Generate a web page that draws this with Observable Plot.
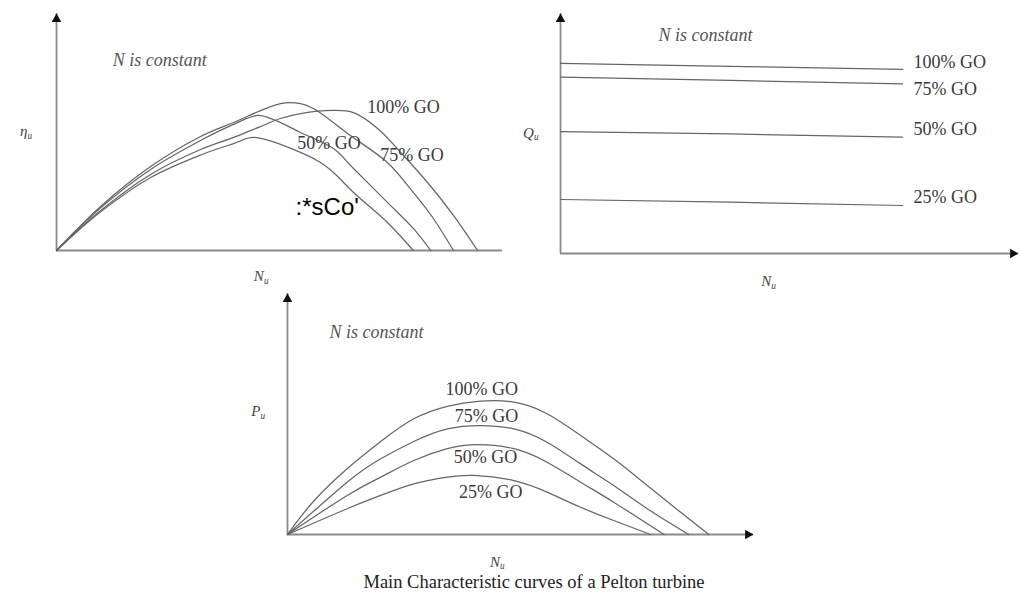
<!DOCTYPE html>
<html>
<head>
<meta charset="utf-8">
<script src="https://cdn.jsdelivr.net/npm/d3@7"></script>
<script src="https://cdn.jsdelivr.net/npm/@observablehq/plot@0.6"></script>
<style>
  body { margin: 0; background: #fff; }
  #wrap { position: relative; width: 1021px; height: 598px; overflow: hidden; background: #fff; }
  #wrap > svg { position: absolute; overflow: visible; }
  #caption { position: absolute; left: 284px; width: 500px; top: 572px; text-align: center;
             font: 18.5px "Liberation Serif", serif; line-height: 20px; color: #222; white-space: nowrap; }
</style>
</head>
<body>
<div id="wrap"><div id="caption">Main Characteristic curves of a Pelton turbine</div></div>
<script>
// ---- data (Nu normalised 0..100 along each x-axis, values 0..100 along each y-axis) ----
const goLabels = ["100% GO", "75% GO", "50% GO", "25% GO"];

// Efficiency vs unit speed
const eff100 = [[0,0],[9.9,16.9],[21.1,32.1],[32.3,42.6],[39.7,47.7],[45.7,52.3],[50.2,55.7],[54.7,57.8],[62.1,59.1],[66.6,58.2],[72,51.5],[77.8,40.1],[83.2,28.7],[89,14.8],[94.4,0]];
const eff75  = [[0,0],[9.9,18.6],[21.1,35.4],[32.3,48.1],[39.7,54],[50.2,62],[54.7,62],[57.6,59.9],[65.9,48.5],[74.2,37.1],[80,24.5],[84.5,13.5],[89,0]];
const eff50  = [[0,0],[9.9,18],[21.1,34.2],[32.3,46.4],[39.7,53.2],[45.1,57],[49.1,54.9],[54.7,49.8],[62.1,43],[66.6,34.6],[74.2,20.3],[80,9.3],[83.9,0]];
const eff25  = [[0,0],[9.9,16.3],[21.1,30.8],[32.3,40.3],[39.7,45.1],[44.2,47.7],[54.7,41.4],[59.2,37.1],[62.1,32.9],[66.6,24.5],[74.2,11.8],[80,0]];

// Unit discharge vs unit speed
const q100 = [[0,79.2],[37,78],[74.7,76.7]];
const q75  = [[0,73.5],[37,72.1],[74.7,70.7]];
const q50  = [[0,50.8],[37,49.8],[74.7,48.5]];
const q25  = [[0,22.5],[37,21.4],[74.7,20]];

// Unit power vs unit speed
const pw100 = [[0,0],[5.6,13.8],[12.8,27.3],[20,38.6],[27.1,48],[34.3,53.2],[41.4,55.3],[48.6,54.9],[55.7,50.1],[62.9,41.1],[70,31.4],[77.2,20.3],[84.3,9.3],[90.4,0]];
const pw75  = [[0,0],[12.8,21.7],[20,31.4],[27.1,38.6],[34.3,43.8],[41.4,45.2],[48.6,43.8],[55.7,38.3],[62.9,29.3],[70,20.3],[77.2,10.7],[86.1,0]];
const pw50  = [[0,0],[12.8,16.2],[20,23.8],[27.1,30.7],[34.3,35.6],[40.7,37.3],[48.6,35.6],[55.7,30],[62.9,21.7],[70,13.4],[80.8,0]];
const pw25  = [[0,0],[12.8,10.7],[20,16.2],[27.1,21],[34.3,23.8],[40,24.5],[48.6,22.4],[55.7,17.6],[62.9,11.3],[70,5.8],[77.9,0]];

// ---- helpers ----
const toRows = (series) => series.flatMap((pts, i) => pts.map(([nu, v]) => ({go: goLabels[i], nu, v})));
const axisColor = "#8a8a8a";
const curveColor = "#666";
const serif = "Liberation Serif";

function axes(rightArrow) {
  const m = [
    Plot.ruleX([{x: 0, y1: 0, y2: 100}], {x: "x", y1: "y1", y2: "y2", stroke: axisColor, strokeWidth: 1.8}),
    Plot.ruleY([{y: 0, x1: 0, x2: 100}], {y: "y", x1: "x1", x2: "x2", stroke: axisColor, strokeWidth: 1.8}),
    Plot.dot([{x: 0, y: 100}], {x: "x", y: "y", symbol: "triangle", r: 3.6, fill: "#111", stroke: "none", dy: 5.6})
  ];
  if (rightArrow) m.push(Plot.dot([{x: 100, y: 0}], {x: "x", y: "y", symbol: "triangle", rotate: 90, r: 3.6, fill: "#111", stroke: "none", dx: -5.6}));
  return m;
}
function axisLabel(x, y, main, sub, size) {
  return [
    Plot.text([main], {x: () => x, y: () => y, text: d => d, fontFamily: serif, fontStyle: "italic", fontSize: size, fill: "#444", textAnchor: "end"}),
    Plot.text([sub], {x: () => x, y: () => y, text: d => d, fontFamily: serif, fontStyle: "italic", fontSize: size * 0.62, fill: "#444", textAnchor: "start", dy: 4})
  ];
}
function note(x, y) {
  return Plot.text(["N is constant"], {x: () => x, y: () => y, text: d => d, fontFamily: serif, fontStyle: "italic", fontSize: 18, fill: "#555", textAnchor: "start"});
}
const common = (w, h, ml, mr, mt, mb) => ({
  width: w, height: h, marginLeft: ml, marginRight: mr, marginTop: mt, marginBottom: mb,
  x: {domain: [0, 100], axis: null}, y: {domain: [0, 100], axis: null},
  style: {background: "transparent", overflow: "visible"}
});
const lineOpts = {x: "nu", y: "v", z: "go", stroke: curveColor, strokeWidth: 1.25};
const lblOpts = {fontFamily: serif, fontSize: 18, fill: "#3a3a3a"};

// ---- panel 1: efficiency ----
const effLabels = [
  {x: 69.7, y: 60.3, t: goLabels[0]},
  {x: 72.6, y: 40.1, t: goLabels[1]},
  {x: 54.0, y: 45.1, t: goLabels[2]}
];
const p1 = Plot.plot({
  ...common(510, 295, 56, 8, 13, 45),
  marks: [
    ...axes(false),
    Plot.line(toRows([eff100, eff75, eff50, eff25]), {...lineOpts, curve: "catmull-rom"}),
    Plot.text(effLabels, {x: "x", y: "y", text: "t", textAnchor: "start", ...lblOpts}),
    Plot.text([":*sCo'"], {x: () => 53.6, y: () => 18.1, text: d => d, textAnchor: "start", fontFamily: "Liberation Sans", fontSize: 24, fill: "#000"}),
    note(12.6, 80.2),
    ...axisLabel(-6.5, 50.2, "η", "u", 15),
    ...axisLabel(46.5, -11, "N", "u", 15)
  ]
});

// ---- panel 2: discharge ----
const qLabels = [
  {y: 79.6, t: goLabels[0]},
  {y: 68.3, t: goLabels[1]},
  {y: 51.7, t: goLabels[2]},
  {y: 23.3, t: goLabels[3]}
];
const p2 = Plot.plot({
  ...common(511, 295, 50, 3, 13, 42),
  marks: [
    ...axes(true),
    Plot.line(toRows([q100, q75, q50, q25]), {...lineOpts, curve: "linear"}),
    Plot.text(qLabels, {x: () => 77.1, y: "y", text: "t", textAnchor: "start", ...lblOpts}),
    note(21.4, 90.8),
    ...axisLabel(-5.8, 50, "Q", "u", 15),
    ...axisLabel(46, -11.7, "N", "u", 15)
  ]
});

// ---- panel 3: power ----
const pLabels = [
  {x: 41.7, y: 60.2, t: goLabels[0]},
  {x: 42.7, y: 49.0, t: goLabels[1]},
  {x: 42.5, y: 32.0, t: goLabels[2]},
  {x: 43.6, y: 17.4, t: goLabels[3]}
];
const p3 = Plot.plot({
  ...common(560, 290, 67, 27, 13, 36),
  marks: [
    ...axes(true),
    Plot.line(toRows([pw100, pw75, pw50, pw25]), {...lineOpts, curve: "natural"}),
    Plot.text(pLabels, {x: "x", y: "y", text: "t", textAnchor: "middle", ...lblOpts}),
    note(9.0, 83.8),
    ...axisLabel(-5.8, 51, "P", "u", 15),
    ...axisLabel(45.6, -11.6, "N", "u", 15)
  ]
});

const wrap = document.getElementById("wrap");
const place = (svg, left, top) => { svg.style.left = left + "px"; svg.style.top = top + "px"; wrap.appendChild(svg); };
place(p1, 0, 0);
place(p2, 510, 0);
place(p3, 220, 280);
</script>
</body>
</html>
